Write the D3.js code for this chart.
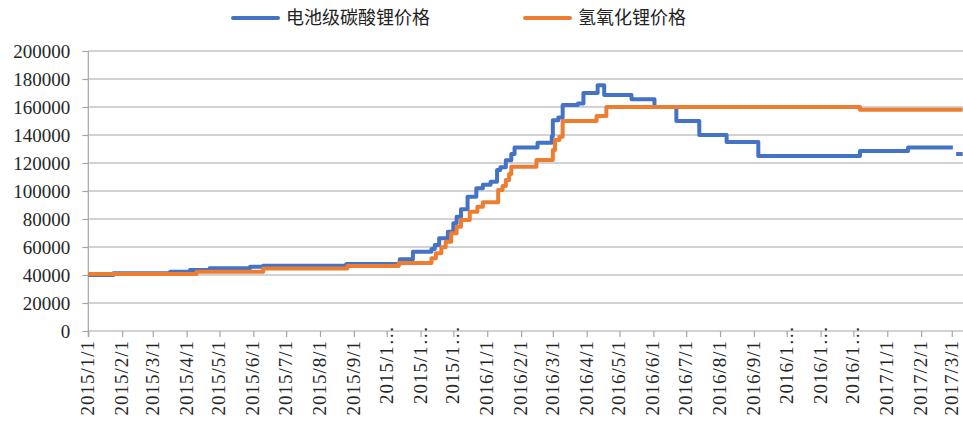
<!DOCTYPE html>
<html>
<head>
<meta charset="utf-8">
<script src="https://cdn.jsdelivr.net/npm/d3@7"></script>
<style>
  html, body { margin: 0; padding: 0; background: #fff; }
  svg { display: block; }
</style>
</head>
<body>
<svg id="chart" width="963" height="428"></svg>
<script>
// Series names (legend)
const seriesNames = ["电池级碳酸锂价格", "氢氧化锂价格"];
const seriesColors = ["#4472C4", "#ED7D31"];

// Battery-grade lithium carbonate price: dates where the price changes
const carbonateDates = [
  "2015-01-01", "2015-01-24", "2015-03-17", "2015-04-04", "2015-04-22",
  "2015-05-29", "2015-06-10", "2015-08-25", "2015-10-13", "2015-10-25",
  "2015-11-11", "2015-11-14", "2015-11-18", "2015-11-26", "2015-12-01",
  "2015-12-04", "2015-12-08", "2015-12-14", "2015-12-22", "2015-12-28",
  "2016-01-04", "2016-01-10", "2016-01-13", "2016-01-18", "2016-01-23",
  "2016-01-26", "2016-02-16", "2016-02-29", "2016-03-01", "2016-03-06",
  "2016-03-10", "2016-03-24", "2016-03-29", "2016-04-11", "2016-04-17",
  "2016-05-12", "2016-06-02", "2016-06-22", "2016-07-13", "2016-08-07",
  "2016-09-05", "2016-12-07", "2017-01-20", "2017-03-02", "2017-03-03",
  "2017-03-05", "2017-03-11"
];
const carbonateValues = [
  40000, 41200, 42400, 43600, 44800,
  45900, 46600, 47900, 51200, 56600,
  58600, 61400, 66200, 70900, 76900,
  81600, 86900, 95900, 102000, 104500,
  106600, 115000, 117000, 122000, 126500,
  131000, 134500, 139000, 150500, 152500,
  161500, 162500, 170000, 175500, 168500,
  165500, 160000, 150000, 140000, 135000,
  125000, 128500, 131000, 131000, null,
  126500, 126500
];

// Lithium hydroxide price: dates where the price changes
const hydroxideDates = [
  "2015-01-01", "2015-04-10", "2015-06-10", "2015-08-26", "2015-10-12",
  "2015-11-11", "2015-11-15", "2015-11-20", "2015-11-24", "2015-11-29",
  "2015-12-04", "2015-12-08", "2015-12-16", "2015-12-23", "2015-12-28",
  "2016-01-11", "2016-01-15", "2016-01-18", "2016-01-21", "2016-01-23",
  "2016-02-15", "2016-03-01", "2016-03-03", "2016-03-07", "2016-03-10",
  "2016-04-10", "2016-04-19", "2016-12-07", "2017-03-11"
];
const hydroxideValues = [
  40700, 42400, 44600, 46400, 48600,
  51900, 55500, 59800, 63800, 69800,
  74500, 79300, 85200, 88800, 92000,
  100700, 103600, 107900, 112100, 117400,
  122100, 129300, 136400, 138800, 150000,
  153500, 160000, 158000, 158000
];

// Axis ticks
const yTicks = [0, 20000, 40000, 60000, 80000, 100000, 120000, 140000, 160000, 180000, 200000];
const xTickDates = [
  "2015-01-01", "2015-02-01", "2015-03-01", "2015-04-01", "2015-05-01", "2015-06-01",
  "2015-07-01", "2015-08-01", "2015-09-01", "2015-10-01", "2015-11-01", "2015-12-01",
  "2016-01-01", "2016-02-01", "2016-03-01", "2016-04-01", "2016-05-01", "2016-06-01",
  "2016-07-01", "2016-08-01", "2016-09-01", "2016-10-01", "2016-11-01", "2016-12-01",
  "2017-01-01", "2017-02-01", "2017-03-01"
];
const xTickLabels = [
  "2015/1/1", "2015/2/1", "2015/3/1", "2015/4/1", "2015/5/1", "2015/6/1",
  "2015/7/1", "2015/8/1", "2015/9/1", "2015/1…", "2015/1…", "2015/1…",
  "2016/1/1", "2016/2/1", "2016/3/1", "2016/4/1", "2016/5/1", "2016/6/1",
  "2016/7/1", "2016/8/1", "2016/9/1", "2016/1…", "2016/1…", "2016/1…",
  "2017/1/1", "2017/2/1", "2017/3/1"
];

const parse = d3.utcParse("%Y-%m-%d");
const toSeries = (dates, values) => dates.map((d, i) => ({ date: parse(d), value: values[i] }));
const series = [
  toSeries(carbonateDates, carbonateValues),
  toSeries(hydroxideDates, hydroxideValues)
];

const svg = d3.select("#chart");
const serif = "'Liberation Serif', 'DejaVu Serif', serif";
const cjk = "'Noto Sans CJK SC', sans-serif";
const gridColor = "#a6a6a6";
const labelColor = "#262626";

const plotLeft = 88.3, plotRight = 962.7, plotTop = 51, plotBottom = 331;

const x = d3.scaleUtc()
  .domain([parse("2015-01-01"), parse("2017-03-11")])
  .range([plotLeft, plotRight]);
const y = d3.scaleLinear().domain([0, 200000]).range([plotBottom, plotTop]);

// Horizontal gridlines
svg.append("g")
  .selectAll("line")
  .data(yTicks.filter(v => v > 0))
  .join("line")
  .attr("x1", plotLeft).attr("x2", 963)
  .attr("y1", d => y(d)).attr("y2", d => y(d))
  .attr("stroke", gridColor).attr("stroke-width", 1.2);

// Y axis
const yAxis = svg.append("g")
  .attr("transform", `translate(${plotLeft},0)`)
  .call(d3.axisLeft(y).tickValues(yTicks).tickSize(6).tickPadding(12).tickFormat(d3.format("d")));
yAxis.select(".domain").attr("stroke", gridColor).attr("stroke-width", 1.2)
  .attr("d", `M0,${plotTop}V${plotBottom + 6}`);
yAxis.selectAll(".tick line").attr("stroke", gridColor).attr("stroke-width", 1.2);
yAxis.selectAll(".tick text")
  .attr("font-family", serif).attr("font-size", 19).attr("fill", labelColor);

// X axis
const xAxis = svg.append("g")
  .attr("transform", `translate(0,${plotBottom})`)
  .call(d3.axisBottom(x).tickValues(xTickDates.map(parse)).tickSize(6).tickFormat(""));
xAxis.select(".domain").attr("stroke", gridColor).attr("stroke-width", 1.2)
  .attr("d", `M${plotLeft},0H963`);
xAxis.selectAll(".tick line").attr("stroke", gridColor).attr("stroke-width", 1.2);

// Rotated month labels
svg.append("g")
  .selectAll("text")
  .data(xTickDates.map((d, i) => ({ date: parse(d), label: xTickLabels[i] })))
  .join("text")
  .attr("transform", d => {
    const truncated = d.label.endsWith("…");
    return `translate(${x(d.date) + 6},${truncated ? 404 : 340}) rotate(-90)`;
  })
  .attr("text-anchor", d => d.label.endsWith("…") ? "start" : "end")
  .attr("font-family", serif).attr("font-size", 19).attr("fill", labelColor)
  .attr("letter-spacing", 1)
  .text(d => d.label);

// Price lines
const line = d3.line()
  .defined(d => d.value !== null)
  .x(d => x(d.date))
  .y(d => y(d.value))
  .curve(d3.curveStepAfter);

svg.append("g")
  .selectAll("path")
  .data(series)
  .join("path")
  .attr("d", line)
  .attr("fill", "none")
  .attr("stroke", (d, i) => seriesColors[i])
  .attr("stroke-width", 4)
  .attr("stroke-linejoin", "round");

// Legend
const legendX = [233, 525];
const legend = svg.append("g")
  .selectAll("g")
  .data(seriesNames)
  .join("g")
  .attr("transform", (d, i) => `translate(${legendX[i]},18)`);
legend.append("line")
  .attr("x1", 0).attr("x2", 45).attr("y1", 0).attr("y2", 0)
  .attr("stroke", (d, i) => seriesColors[i]).attr("stroke-width", 4)
  .attr("stroke-linecap", "round");
legend.append("text")
  .attr("x", 53).attr("y", 0).attr("dy", "0.35em")
  .attr("font-family", cjk).attr("font-size", 18).attr("fill", "#222")
  .text(d => d);
</script>
</body>
</html>
